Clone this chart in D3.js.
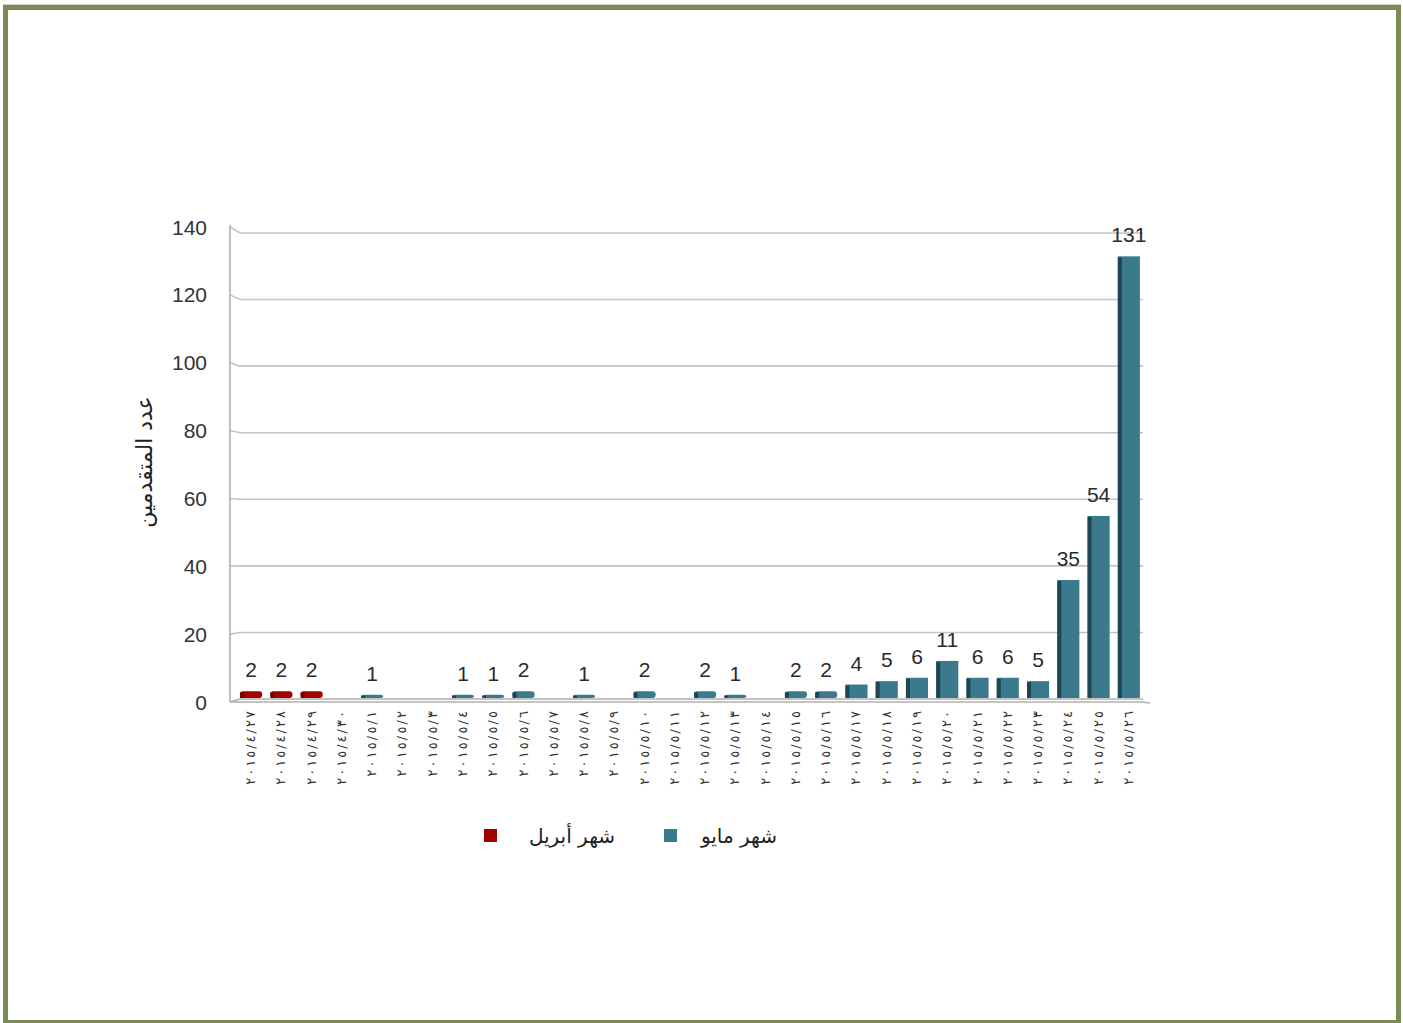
<!DOCTYPE html>
<html><head><meta charset="utf-8">
<script src="https://cdn.jsdelivr.net/npm/d3@7"></script>
<style>body{margin:0;background:#fff}svg{display:block}</style>
</head><body><svg id="c" width="1403" height="1023"></svg>
<script>
const categories = ["٢٠١٥/٤/٢٧","٢٠١٥/٤/٢٨","٢٠١٥/٤/٢٩","٢٠١٥/٤/٣٠","٢٠١٥/٥/١","٢٠١٥/٥/٢","٢٠١٥/٥/٣","٢٠١٥/٥/٤","٢٠١٥/٥/٥","٢٠١٥/٥/٦","٢٠١٥/٥/٧","٢٠١٥/٥/٨","٢٠١٥/٥/٩","٢٠١٥/٥/١٠","٢٠١٥/٥/١١","٢٠١٥/٥/١٢","٢٠١٥/٥/١٣","٢٠١٥/٥/١٤","٢٠١٥/٥/١٥","٢٠١٥/٥/١٦","٢٠١٥/٥/١٧","٢٠١٥/٥/١٨","٢٠١٥/٥/١٩","٢٠١٥/٥/٢٠","٢٠١٥/٥/٢١","٢٠١٥/٥/٢٢","٢٠١٥/٥/٢٣","٢٠١٥/٥/٢٤","٢٠١٥/٥/٢٥","٢٠١٥/٥/٢٦"];
const aprilValues = [2,2,2,null,null,null,null,null,null,null,null,null,null,null,null,null,null,null,null,null,null,null,null,null,null,null,null,null,null,null];
const mayValues = [null,null,null,null,1,null,null,1,1,2,null,1,null,2,null,2,1,null,2,2,4,5,6,11,6,6,5,35,54,131];
const seriesNames = ["شهر أبريل","شهر مايو"];
const yTicks = [0,20,40,60,80,100,120,140];
const yTitle = "عدد المتقدمين";

const svg = d3.select("#c");
svg.append("rect").attr("x",5.5).attr("y",7.5).attr("width",1393).attr("height",1015)
  .attr("fill","none").attr("stroke","#7a8b55").attr("stroke-width",5);
svg.append("line").attr("x1",3).attr("x2",1401).attr("y1",4.5).attr("y2",4.5).attr("stroke","#d0d0d0");

const axisX = 230;
const x = d3.scaleBand().domain(categories).range([236, 1144]).paddingInner(0.27).paddingOuter(0.135);
const yBar = d3.scaleLinear().domain([0,140]).range([698,226]);
const yGrid = d3.scaleLinear().domain([0,140]).range([699,233]);
const yLab = d3.scaleLinear().domain([0,140]).range([702,227]);

const g = svg.append("g");
yTicks.forEach(v=>{
  g.append("path")
   .attr("d", `M${axisX},${yLab(v)} L${axisX+10},${yGrid(v)} L1143,${yGrid(v)}`)
   .attr("fill","none").attr("stroke", v===0 ? "#b0b0b0" : "#c4c4c4").attr("stroke-width",1.6);
});
g.append("line").attr("x1",axisX).attr("x2",axisX).attr("y1",yLab(140)-2).attr("y2",yLab(0))
  .attr("stroke","#a8a8a8").attr("stroke-width",1.5);
g.append("path").attr("d",`M${axisX},${yLab(0)} L1141,${yLab(0)} L1150,${yGrid(0)+4}`)
  .attr("fill","none").attr("stroke","#b0b0b0").attr("stroke-width",1.5);

svg.append("g").selectAll("text").data(yTicks).join("text")
  .attr("x",207).attr("y",d=>yLab(d)).attr("dy","0.36em").attr("text-anchor","end")
  .attr("font-family","'Liberation Sans', Arial, sans-serif").attr("font-size",21).attr("fill","#333")
  .text(d=>d);

function drawSeries(vals, face, side){
  const data = categories.map((c,i)=>({c, v: vals[i]})).filter(d=>d.v!=null);
  const bg = svg.append("g");
  bg.selectAll("rect.f").data(data).join("rect").attr("class","f")
    .attr("x",d=>x(d.c)).attr("width",x.bandwidth())
    .attr("y",d=>yBar(d.v)).attr("height",d=>yBar(0)-yBar(d.v))
    .attr("rx",d=>d.v<=2?3:0)
    .attr("fill",face);
  bg.selectAll("rect.s").data(data).join("rect").attr("class","s")
    .attr("x",d=>x(d.c)).attr("width",4)
    .attr("y",d=>yBar(d.v)+1).attr("height",d=>Math.max(0,yBar(0)-yBar(d.v)-1))
    .attr("fill",side);
  bg.selectAll("text").data(data).join("text")
    .attr("x",d=>x(d.c)+x.bandwidth()/2).attr("y",d=>yBar(d.v)-14)
    .attr("text-anchor","middle")
    .attr("font-family","'Liberation Sans', Arial, sans-serif").attr("font-size",21).attr("fill","#2a2a2a")
    .text(d=>d.v);
}
drawSeries(aprilValues, "#a30000", "#6e0000");
drawSeries(mayValues, "#3b7a8d", "#1d4552");

svg.append("g").selectAll("text").data(categories).join("text")
  .attr("transform",d=>`translate(${x(d)+x.bandwidth()/2+4},711) rotate(-90)`)
  .attr("text-anchor","end")
  .attr("font-family","'DejaVu Sans', sans-serif").attr("font-size",13).attr("fill","#333")
  .attr("textLength",d=>d.length*8.2).attr("lengthAdjust","spacing")
  .attr("direction","ltr")
  .text(d=>d);

svg.append("text").attr("transform","translate(152,462) rotate(-90)")
  .attr("text-anchor","middle").attr("font-family","'DejaVu Sans', sans-serif")
  .attr("font-size",22).attr("fill","#222").text(yTitle);

const leg = [{n:seriesNames[0], c:"#a30000", sx:484, tx:572},{n:seriesNames[1], c:"#3b7a8d", sx:664, tx:739}];
leg.forEach(l=>{
  svg.append("rect").attr("x",l.sx).attr("y",829).attr("width",13).attr("height",13).attr("fill",l.c);
  svg.append("text").attr("x",l.tx).attr("y",836).attr("dy","0.35em").attr("text-anchor","middle")
    .attr("font-family","'DejaVu Sans', sans-serif").attr("font-size",20).attr("fill","#222").text(l.n);
});
</script></body></html>
